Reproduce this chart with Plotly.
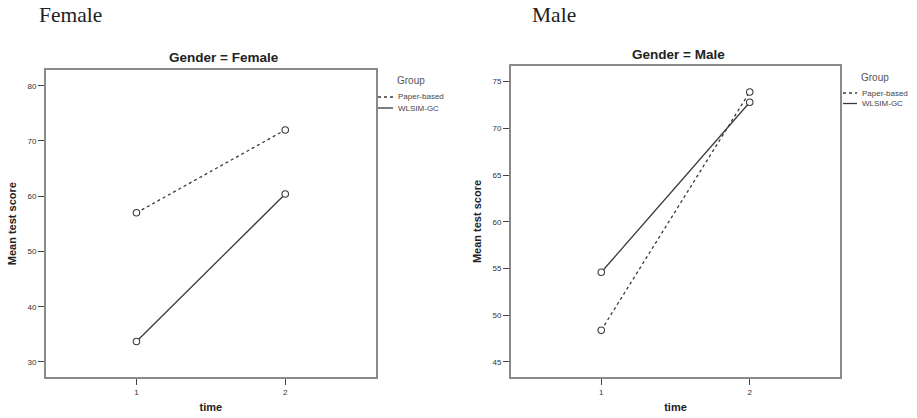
import plotly.graph_objects as go

W, H = 917, 418

times = [1, 2]
tick_x = [1, 2]
female_paper = [57.0, 72.0]
female_wlsim = [33.7, 60.4]
male_paper = [48.4, 73.9]
male_wlsim = [54.6, 72.8]
female_yticks = [30, 40, 50, 60, 70, 80]
male_yticks = [45, 50, 55, 60, 65, 70, 75]
group_names = ["Paper-based", "WLSIM-GC"]

LINE_C = "#3a3a3a"
FRAME_C = "#8a8a8a"
TXT_C = "#333333"
FONT = "Liberation Sans, Arial, sans-serif"

fig = go.Figure()

def add_series(y, name, dash, xa, ya):
    fig.add_trace(go.Scatter(
        x=times, y=y, name=name, mode="lines+markers",
        line=dict(color=LINE_C, width=1.3, dash=dash),
        marker=dict(symbol="circle", size=6.5, color="white",
                    line=dict(color=LINE_C, width=1.1)),
        xaxis=xa, yaxis=ya, showlegend=False))

add_series(female_paper, group_names[0], "dot", "x", "y")
add_series(female_wlsim, group_names[1], "solid", "x", "y")
add_series(male_paper, group_names[0], "dot", "x2", "y2")
add_series(male_wlsim, group_names[1], "solid", "x2", "y2")

def px(x):
    return x / W

def py(y):
    return 1 - y / H

axis_common = dict(showline=True, linecolor=FRAME_C, linewidth=1.5, mirror=True,
                   ticks="outside", ticklen=6, tickcolor="#444", tickwidth=1,
                   showgrid=False, zeroline=False,
                   tickfont=dict(size=8, color=TXT_C, family=FONT))
xt = dict(text="time", font=dict(size=11, color="#222", family=FONT, weight="bold"), standoff=8)
yt = dict(text="Mean test score", font=dict(size=11, color="#222", family=FONT, weight="bold"), standoff=9)

fig.update_layout(
    width=W, height=H, margin=dict(l=0, r=0, t=0, b=0),
    paper_bgcolor="white", plot_bgcolor="white",
    font=dict(family=FONT, color=TXT_C),
    xaxis=dict(domain=[px(45.7), px(376)], range=[0.39, 2.61], tickvals=tick_x,
               anchor="y", title=xt, **axis_common),
    yaxis=dict(domain=[py(377.3), py(70)], range=[27.22, 82.85], tickvals=female_yticks,
               anchor="x", title=yt, **axis_common),
    xaxis2=dict(domain=[px(510.7), px(840.3)], range=[0.39, 2.61], tickvals=tick_x,
                anchor="y2", title=xt, **axis_common),
    yaxis2=dict(domain=[py(377.3), py(65.7)], range=[43.36, 76.71], tickvals=male_yticks,
                anchor="x2", title=yt, **axis_common),
)

anns = []
shapes = []

def text(x, y, s, size, color="#222", xanchor="left", bold=False, family=FONT):
    anns.append(dict(x=px(x), y=py(y), xref="paper", yref="paper", text=s, showarrow=False,
                     xanchor=xanchor, yanchor="middle",
                     font=dict(size=size, color=color, family=family,
                               weight="bold" if bold else "normal")))

# Page captions
text(37, 15, "Female", 21.5, color="#222", family="Liberation Serif, Times New Roman, serif")
text(530, 15, "Male", 21.5, color="#222", family="Liberation Serif, Times New Roman, serif")
# Panel titles
text(224, 58, "Gender = Female", 13.5, xanchor="center", bold=True)
text(678, 54, "Gender = Male", 13.5, xanchor="center", bold=True)

def legend(x_line0, x_line1, x_text, y_title, y1, y2):
    text(x_text - 1, y_title, "Group", 10, color="#555")
    for name, dash, yy in [(group_names[0], "dot", y1), (group_names[1], "solid", y2)]:
        shapes.append(dict(type="line", xref="paper", yref="paper",
                           x0=px(x_line0), x1=px(x_line1), y0=py(yy), y1=py(yy),
                           line=dict(color=LINE_C, width=1.3, dash=dash)))
        text(x_text, yy, name, 8, color="#444")

legend(378, 393, 396, 81, 97, 108)
legend(843, 857, 860, 77, 93, 103.5)

fig.update_layout(annotations=anns, shapes=shapes)
fig.write_html("out.html")
